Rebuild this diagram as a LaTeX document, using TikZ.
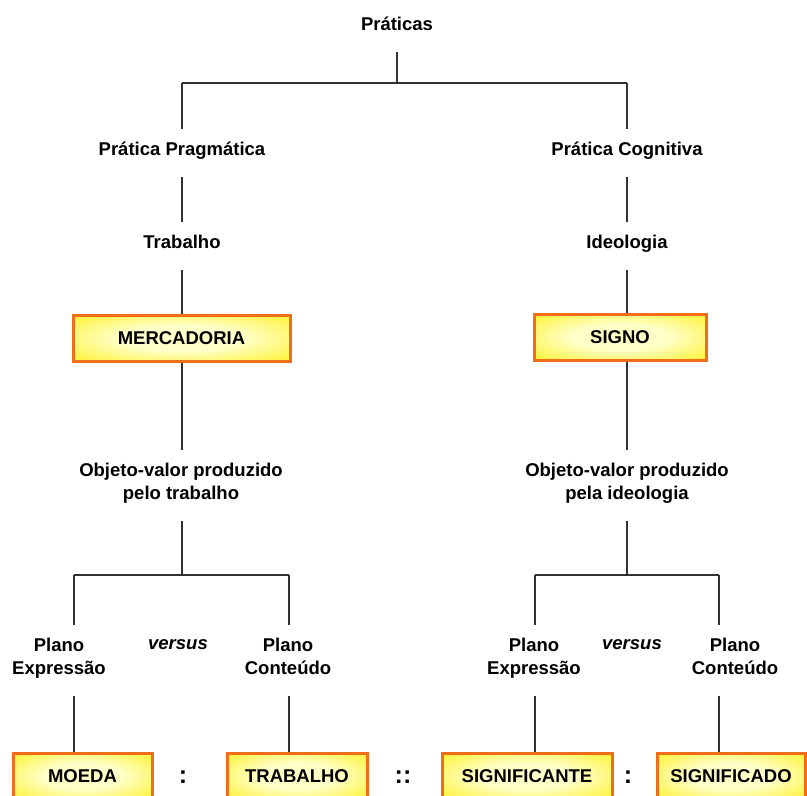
\documentclass[tikz,border=0pt]{standalone}
\usepackage{fontspec}
\setmainfont{Liberation Sans}
\usetikzlibrary{calc}

\definecolor{linegray}{RGB}{50,50,50}
\definecolor{boxedge}{RGB}{240,110,25}
\definecolor{boxyellow}{RGB}{255,238,0}
\definecolor{boxinner}{RGB}{255,255,200}

% soft yellow glow: pale centre, saturated yellow towards the border
\pgfdeclareradialshading{boxglow}{\pgfpointorigin}{%
  color(0bp)=(boxinner); color(14bp)=(boxinner);
  color(42bp)=(boxyellow); color(100bp)=(boxyellow)}

% uniform line strut: 14pt above, 8pt below the baseline
\newcommand\lstr{\rule[-8pt]{0pt}{22pt}}

\begin{document}
\begin{tikzpicture}[x=1pt,y=-1pt,
  lbl/.style={font=\bfseries\fontsize{18.5}{23}\selectfont,
    inner xsep=0pt, inner ysep=13pt, align=center, anchor=north},
  vrs/.style={font=\bfseries\itshape\fontsize{18.5}{23}\selectfont, inner sep=0pt},
  sep/.style={font=\bfseries\fontsize{25}{28}\selectfont, inner sep=0pt},
  cbox/.style={draw=boxedge, line width=3pt, shading=boxglow,
    font=\bfseries\fontsize{18.5}{23}\selectfont,
    minimum height=46pt, inner sep=0pt},
  link/.style={draw=linegray, line width=1.6pt}]

\useasboundingbox (0,0) rectangle (807,796);
\clip (0,0) rectangle (807,796);

% ---- text labels ----
\node[lbl] (prat)  at (397,3.6)   {\lstr Práticas};
\node[lbl] (pragm) at (182,128.6) {\lstr Prática Pragmática};
\node[lbl] (trab)  at (182,221.6) {\lstr Trabalho};
\node[lbl] (cogn)  at (627,128.6) {\lstr Prática Cognitiva};
\node[lbl] (ideo)  at (627,221.6) {\lstr Ideologia};
\node[lbl] (objL)  at (181,449.6) {\lstr Objeto-valor produzido\\\lstr pelo trabalho};
\node[lbl] (objR)  at (627,449.6) {\lstr Objeto-valor produzido\\\lstr pela ideologia};
\node[lbl] (plEL)  at (59,624.6)  {\lstr Plano\\\lstr Expressão};
\node[lbl] (plCL)  at (288,624.6) {\lstr Plano\\\lstr Conteúdo};
\node[lbl] (plER)  at (534,624.6) {\lstr Plano\\\lstr Expressão};
\node[lbl] (plCR)  at (735,624.6) {\lstr Plano\\\lstr Conteúdo};
\node[vrs] (vsL) at (178,645) {versus};
\node[vrs] (vsR) at (632,645) {versus};

% ---- highlighted boxes ----
\node[cbox, minimum width=217pt] (merc)  at (181.5,338) {MERCADORIA};
\node[cbox, minimum width=172pt] (signo) at (620,337)   {SIGNO};
\node[cbox, minimum width=139pt] (moeda) at (82.5,776)  {MOEDA};
\node[cbox, minimum width=140pt] (trabb) at (297,776)   {TRABALHO};
\node[cbox, minimum width=170pt] (sgnte) at (527,776)   {SIGNIFICANTE};
\node[cbox, minimum width=148pt] (sgndo) at (731,776)   {SIGNIFICADO};

% proportion signs between the boxes
\node[sep] (c1) at (183,777) {:};
\node[sep] (c2) at (403,777) {::};
\node[sep] (c3) at (628,777) {:};

% ---- junction points of the tree ----
\coordinate (jL0) at (182,83);
\coordinate (jR0) at (627,83);
\coordinate (jL1) at (182,575);
\coordinate (jL1a) at (74,575);
\coordinate (jL1b) at (289,575);
\coordinate (jR1) at (627,575);
\coordinate (jR1a) at (535,575);
\coordinate (jR1b) at (719,575);

% ---- top level ----
\draw[link] (prat.south) -- (prat.south |- jL0);
\draw[link] (jL0) -- (jR0);
\draw[link] (jL0) -- (jL0 |- pragm.north);
\draw[link] (jR0) -- (jR0 |- cogn.north);

% ---- left branch ----
\draw[link] (pragm.south) -- (trab.north);
\draw[link] (trab.south) -- (trab.south |- merc.north);
\draw[link] (merc.south -| jL1) -- (objL.north -| jL1);
\draw[link] (objL.south -| jL1) -- (jL1);
\draw[link] (jL1a) -- (jL1b);
\draw[link] (jL1a) -- (jL1a |- plEL.north);
\draw[link] (jL1b) -- (jL1b |- plCL.north);
\draw[link] (jL1a |- plEL.south) -- (jL1a |- moeda.north);
\draw[link] (jL1b |- plCL.south) -- (jL1b |- trabb.north);

% ---- right branch ----
\draw[link] (cogn.south) -- (ideo.north);
\draw[link] (ideo.south) -- (ideo.south |- signo.north);
\draw[link] (signo.south -| jR1) -- (objR.north -| jR1);
\draw[link] (objR.south -| jR1) -- (jR1);
\draw[link] (jR1a) -- (jR1b);
\draw[link] (jR1a) -- (jR1a |- plER.north);
\draw[link] (jR1b) -- (jR1b |- plCR.north);
\draw[link] (jR1a |- plER.south) -- (jR1a |- sgnte.north);
\draw[link] (jR1b |- plCR.south) -- (jR1b |- sgndo.north);

\end{tikzpicture}
\end{document}
